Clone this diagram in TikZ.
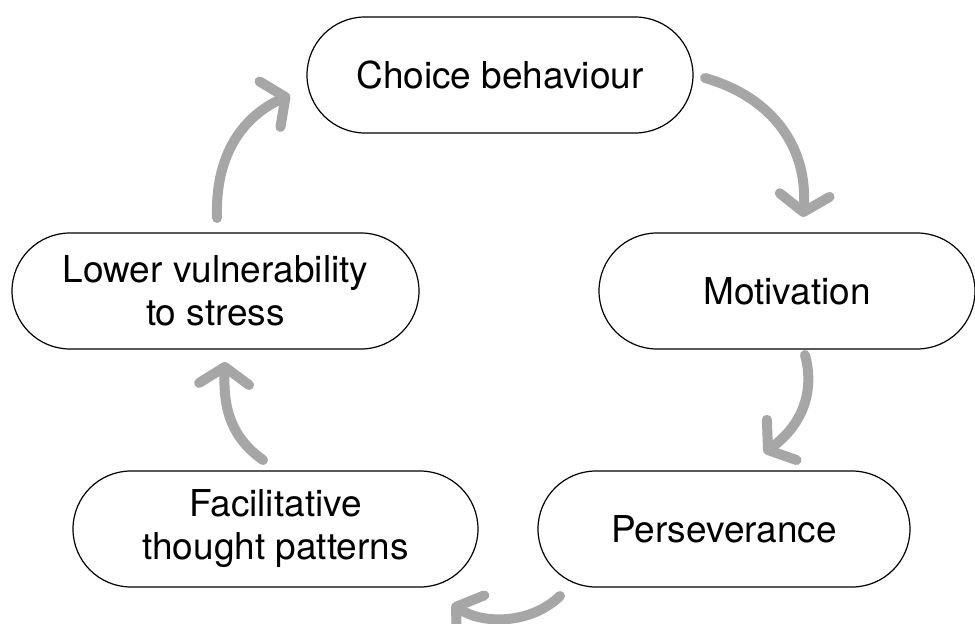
\documentclass[tikz,border=0pt]{standalone}
\usepackage{fontspec}
\setmainfont{TeX Gyre Heros}
\usetikzlibrary{arrows.meta}
\definecolor{arrgray}{HTML}{A6A6A6}
\begin{document}
\begin{tikzpicture}[x=0.5pt,y=-0.5pt,
    stage/.style={draw, line width=0.6pt, rounded corners=29pt, minimum height=58pt,
      align=center, font=\fontsize{18.5}{21.5}\selectfont, inner sep=0pt},
    cyc/.style={draw=arrgray, line width=5pt, line cap=round,
      -{Straight Barb[length=8.5pt,width=25pt,round]}}]
  \useasboundingbox (0,0) rectangle (975,624);
  \node[stage, minimum width=193pt] (choice) at (500,75) {Choice behaviour};
  \node[stage, minimum width=188pt] (motiv) at (787,291) {Motivation};
  \node[stage, minimum width=186pt] (persev) at (724,529) {Perseverance};
  \node[stage, minimum width=202.5pt] (facil) at (275.5,529) {Facilitative\\thought patterns};
  \node[stage, minimum width=203.5pt] (lower) at (215.5,291) {Lower vulnerability\\to stress};
  \coordinate (c1) at (705,78);
  \coordinate (m1) at (803,217);
  \draw[cyc] (c1) .. controls (775,98) and (808,150) .. (m1);
  \coordinate (m2) at (805,355);
  \coordinate (p1) at (764,453);
  \draw[cyc] (m2) .. controls (815,392) and (802,425) .. (p1);
  \coordinate (p2) at (560,596);
  \coordinate (f1) at (452,604);
  \draw[cyc] (p2) .. controls (530,625) and (482,624) .. (f1);
  \coordinate (f2) at (263,460);
  \coordinate (l1) at (225,362);
  \draw[cyc] (f2) .. controls (232,438) and (223,410) .. (l1);
  \coordinate (l2) at (217,218);
  \coordinate (ch1) at (290,95);
  \draw[cyc] (l2) .. controls (215,158) and (240,118) .. (ch1);
\end{tikzpicture}
\end{document}
